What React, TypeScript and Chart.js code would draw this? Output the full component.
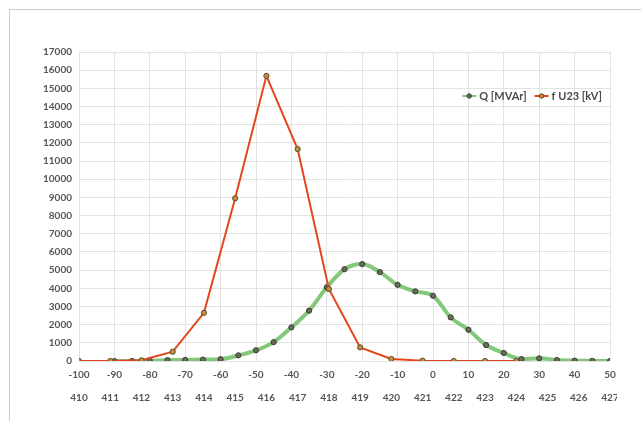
import React, { useEffect, useRef } from "react";
import { Chart, registerables } from "chart.js";

Chart.register(...registerables);

// Q [MVAr] series (top x axis values) and its y values
const qSteps = [-90, -85, -80, -75, -70, -65, -60, -55, -50, -45, -40, -35, -30, -25, -20, -15, -10, -5, 0, 5, 10, 15, 20, 25, 30, 35, 40, 45, 50];
const qPower = [0, 0, 20, 50, 60, 80, 100, 310, 590, 1040, 1850, 2770, 4060, 5050, 5330, 4890, 4190, 3830, 3590, 2400, 1720, 880, 440, 110, 145, 55, 20, 10, 0];

// f U23 [kV] series (bottom x axis values) and its y values
const uSteps = [410, 411, 412, 413, 414, 415, 416, 417, 418, 419, 420, 421, 422, 423, 424];
const uCounts = [0, 0, 40, 510, 2650, 8950, 15690, 11660, 3960, 750, 110, 20, 0, 0, 0];

// axis ranges
const qAxis = { min: -100, max: 50, step: 10 };
const uAxis = { min: 410, max: 427, step: 1 };
const yAxis = { min: 0, max: 17000, step: 1000 };

const seriesLabels = ["Q [MVAr]", "f U23 [kV]"];

const TICK_FONT = { family: "Lato", size: 10, weight: "bold" as const };
const TICK_COLOR = "#555555";
const GRID_COLOR = "#e2e2e2";
const plain = (v: any) => String(v);

const insideLegend = {
  id: "insideLegend",
  afterDraw(chart: any) {
    const { ctx, chartArea } = chart;
    ctx.save();
    ctx.font = "bold 11px Lato";
    ctx.textBaseline = "middle";
    const lineLen = 14;
    const gap = 3;
    const itemGap = 8;
    const ds = chart.data.datasets;
    const widths = ds.map((d: any) => lineLen + gap + ctx.measureText(d.label).width);
    const total = widths.reduce((a: number, b: number) => a + b, 0) + itemGap * (ds.length - 1);
    let x = chartArea.right - 8 - total;
    const y = chartArea.top + 44;
    ds.forEach((d: any, i: number) => {
      ctx.strokeStyle = d.borderColor;
      ctx.lineWidth = 2;
      ctx.beginPath();
      ctx.moveTo(x, y);
      ctx.lineTo(x + lineLen, y);
      ctx.stroke();
      ctx.beginPath();
      ctx.arc(x + lineLen / 2, y, 2.2, 0, Math.PI * 2);
      ctx.fillStyle = d.pointBackgroundColor;
      ctx.fill();
      ctx.lineWidth = 1;
      ctx.strokeStyle = d.pointBorderColor;
      ctx.stroke();
      ctx.fillStyle = "#4a4a4a";
      ctx.fillText(d.label, x + lineLen + gap, y);
      x += widths[i] + itemGap;
    });
    ctx.restore();
  },
};

export default function App() {
  const canvasRef = useRef<HTMLCanvasElement | null>(null);

  useEffect(() => {
    if (!canvasRef.current) return;
    const chart = new Chart(canvasRef.current, {
      type: "line",
      data: {
        datasets: [
          {
            label: seriesLabels[0],
            data: qSteps.map((x, i) => ({ x, y: qPower[i] })),
            xAxisID: "x",
            yAxisID: "y",
            borderColor: "rgba(110,190,100,0.85)",
            borderWidth: 4,
            tension: 0.4,
            cubicInterpolationMode: "monotone",
            pointRadius: 2.6,
            pointBorderWidth: 1,
            pointBackgroundColor: "#6a6a5c",
            pointBorderColor: "#3c3c34",
            order: 2,
          } as any,
          {
            label: seriesLabels[1],
            data: uSteps.map((x, i) => ({ x, y: uCounts[i] })),
            xAxisID: "x2",
            yAxisID: "y",
            borderColor: "#e5471c",
            borderWidth: 2,
            tension: 0,
            pointRadius: 2.6,
            pointBorderWidth: 1,
            pointBackgroundColor: "#c09040",
            pointBorderColor: "#5e4a28",
            order: 1,
          } as any,
        ],
      },
      options: {
        responsive: false,
        animation: false,
        layout: { padding: { left: 0, right: 31, top: 42, bottom: 17 } },
        plugins: {
          legend: { display: false },
          tooltip: { enabled: false },
        },
        scales: {
          x: {
            type: "linear",
            position: "bottom",
            min: qAxis.min,
            max: qAxis.max,
            ticks: { stepSize: qAxis.step, padding: 8, font: TICK_FONT, color: TICK_COLOR, maxRotation: 0, callback: plain },
            grid: { color: GRID_COLOR, drawTicks: false },
            border: { display: false },
            afterFit: (s: any) => {
              s.height = 20;
            },
          },
          x2: {
            type: "linear",
            position: "bottom",
            min: uAxis.min,
            max: uAxis.max,
            ticks: { stepSize: uAxis.step, padding: 11, font: TICK_FONT, color: TICK_COLOR, maxRotation: 0, autoSkip: false, callback: plain },
            grid: { display: false, drawTicks: false },
            border: { display: false },
            afterFit: (s: any) => {
              s.height = 23;
            },
          },
          y: {
            min: yAxis.min,
            max: yAxis.max,
            ticks: { stepSize: yAxis.step, padding: 7, font: TICK_FONT, color: TICK_COLOR, callback: plain },
            grid: { color: GRID_COLOR, drawTicks: false },
            border: { display: false },
            afterFit: (s: any) => {
              s.width = 69;
            },
          },
        },
      } as any,
      plugins: [insideLegend],
    });
    return () => chart.destroy();
  }, []);

  return (
    <div
      style={{
        position: "fixed",
        left: 9,
        top: 9,
        right: 0,
        bottom: 0,
        borderLeft: "1px solid #cccccc",
        borderTop: "1px solid #cccccc",
        background: "#ffffff",
      }}
    >
      <div style={{ width: 607, height: 411, overflow: "hidden" }}>
        <canvas ref={canvasRef} width={631} height={411} style={{ display: "block" }} />
      </div>
    </div>
  );
}
